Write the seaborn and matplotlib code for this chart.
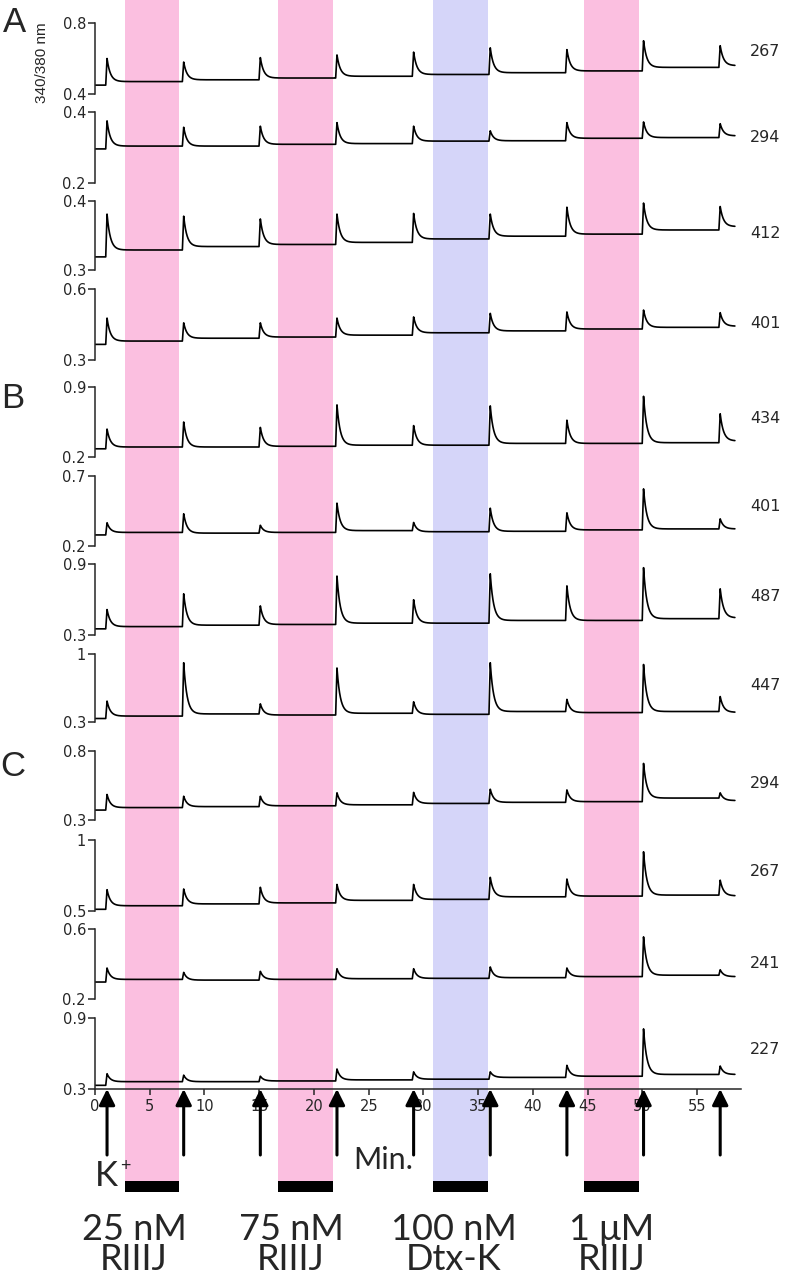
import numpy as np
import pandas as pd
import matplotlib
matplotlib.use('Agg')
import matplotlib.pyplot as plt
import seaborn as sns
from matplotlib.patches import Rectangle

# K+ pulses (min) and toxin applications
k_times = [1.1, 8.1, 15.1, 22.1, 29.1, 36.1, 43.1, 50.1, 57.1]
drug_start = [2.7, 16.7, 30.9, 44.7]
drug_end = [7.7, 21.7, 35.9, 49.7]
drug_dose = ['25 nM', '75 nM', '100 nM', '1 \u03bcM']
drug_name = ['RIIIJ', 'RIIIJ', 'Dtx-K', 'RIIIJ']
drug_color = ['#fbbfe0', '#fbbfe0', '#d5d5f9', '#fbbfe0']

# one trace per neuron (cell size label on the right)
cell_size = [267, 294, 412, 401, 434, 401, 487, 447, 294, 267, 241, 227]
y_low = [0.4, 0.2, 0.3, 0.3, 0.2, 0.2, 0.3, 0.3, 0.3, 0.5, 0.2, 0.3]
y_high = [0.8, 0.4, 0.4, 0.6, 0.9, 0.7, 0.9, 1.0, 0.8, 1.0, 0.6, 0.9]
start_level = [0.45, 0.296, 0.319, 0.366, 0.282, 0.279, 0.352, 0.336, 0.372, 0.512, 0.297, 0.331]
peak_level = [
    [0.600, 0.580, 0.605, 0.620, 0.636, 0.660, 0.650, 0.700, 0.672],
    [0.375, 0.357, 0.360, 0.370, 0.360, 0.347, 0.370, 0.372, 0.367],
    [0.381, 0.378, 0.374, 0.381, 0.382, 0.381, 0.391, 0.397, 0.392],
    [0.477, 0.457, 0.457, 0.477, 0.482, 0.497, 0.503, 0.511, 0.500],
    [0.479, 0.550, 0.496, 0.721, 0.514, 0.711, 0.568, 0.807, 0.632],
    [0.366, 0.430, 0.348, 0.506, 0.368, 0.470, 0.437, 0.608, 0.394],
    [0.515, 0.648, 0.546, 0.798, 0.598, 0.817, 0.715, 0.869, 0.690],
    [0.515, 0.910, 0.487, 0.856, 0.508, 0.910, 0.533, 0.892, 0.562],
    [0.485, 0.472, 0.472, 0.497, 0.500, 0.523, 0.518, 0.710, 0.497],
    [0.650, 0.655, 0.667, 0.687, 0.687, 0.737, 0.725, 0.917, 0.717],
    [0.377, 0.352, 0.358, 0.373, 0.373, 0.383, 0.377, 0.555, 0.367],
    [0.429, 0.417, 0.408, 0.469, 0.445, 0.445, 0.500, 0.808, 0.494],
]
rest_level = [
    [0.470, 0.480, 0.490, 0.500, 0.510, 0.520, 0.530, 0.550, 0.560],
    [0.304, 0.304, 0.309, 0.311, 0.318, 0.319, 0.326, 0.328, 0.333],
    [0.329, 0.334, 0.337, 0.340, 0.345, 0.349, 0.352, 0.358, 0.363],
    [0.380, 0.392, 0.397, 0.405, 0.415, 0.423, 0.431, 0.438, 0.443],
    [0.300, 0.300, 0.307, 0.318, 0.318, 0.336, 0.336, 0.343, 0.361],
    [0.297, 0.292, 0.297, 0.310, 0.302, 0.305, 0.315, 0.322, 0.322],
    [0.371, 0.383, 0.389, 0.400, 0.400, 0.423, 0.423, 0.438, 0.445],
    [0.361, 0.383, 0.372, 0.390, 0.379, 0.408, 0.397, 0.408, 0.400],
    [0.390, 0.397, 0.403, 0.410, 0.420, 0.428, 0.433, 0.459, 0.441],
    [0.537, 0.550, 0.557, 0.575, 0.582, 0.600, 0.605, 0.612, 0.607],
    [0.312, 0.308, 0.312, 0.316, 0.318, 0.322, 0.328, 0.336, 0.328],
    [0.362, 0.362, 0.368, 0.377, 0.383, 0.398, 0.408, 0.423, 0.423],
]
x_ticks = list(range(0, 56, 5))

# layout (pixels)
W, H = 796, 1277
X0, X1, XMAX = 95, 741, 59
row_top = [23, 112, 201, 289, 387, 476, 564, 654, 751, 840, 929, 1018]
row_bottom = [94, 183, 270, 360, 457, 546, 635, 722, 820, 911, 999, 1089]
label_y = [52, 137, 233, 323, 418, 507, 596, 685, 783, 871, 963, 1050]
drug_label_x = [134, 291, 454, 612]


def build_trace(start, peaks, rests, t_end=58.45, rise=0.12, tau=0.3):
    t = np.arange(0, t_end, 0.01)
    y = np.full(t.size, start, dtype=float)
    prev = start
    for i, tk in enumerate(k_times):
        t0 = tk - rise
        t1 = k_times[i + 1] - rise if i + 1 < len(k_times) else t_end + 1
        up = (t >= t0) & (t < tk)
        y[up] = prev + (peaks[i] - prev) * (t[up] - t0) / rise
        down = (t >= tk) & (t < t1)
        y[down] = rests[i] + (peaks[i] - rests[i]) * np.exp(-(t[down] - tk) / tau)
        prev = y[down][-1]
    return pd.DataFrame({'t': t, 'ratio': y})


sns.set_style('white')
plt.rcParams['font.family'] = ['DejaVu Sans']

fig = plt.figure(figsize=(W / 100, H / 100), dpi=100)

# background bands, in pixel y units
bg = fig.add_axes([X0 / W, 0, (X1 - X0) / W, 1])
bg.set_xlim(0, XMAX)
bg.set_ylim(H, 0)
bg.axis('off')
bg.set_zorder(0)
for s, e, c in zip(drug_start, drug_end, drug_color):
    bg.axvspan(s, e, ymin=1 - 1192 / H, ymax=1, color=c, lw=0)

for i in range(len(cell_size)):
    ax = fig.add_axes([X0 / W, 1 - row_bottom[i] / H, (X1 - X0) / W,
                       (row_bottom[i] - row_top[i]) / H])
    ax.set_zorder(1)
    ax.patch.set_visible(False)
    df = build_trace(start_level[i], peak_level[i], rest_level[i])
    sns.lineplot(data=df, x='t', y='ratio', ax=ax, color='black',
                 linewidth=1.2, estimator=None)
    ax.set_xlim(0, XMAX)
    ax.set_ylim(y_low[i], y_high[i])
    ax.set_yticks([y_low[i], y_high[i]])
    ax.set_yticklabels([f'{y_low[i]:g}', f'{y_high[i]:g}'])
    ax.set_xlabel('')
    ax.set_ylabel('')
    last = i == len(cell_size) - 1
    sns.despine(ax=ax, top=True, right=True, bottom=not last)
    for sp in ax.spines.values():
        sp.set_linewidth(1.1)
    ax.tick_params(axis='y', left=True, length=5, width=1.1, labelsize=10.5, pad=1.5)
    if last:
        ax.set_xticks(x_ticks)
        ax.tick_params(axis='x', bottom=True, length=4, width=1.1, labelsize=10.5, pad=3)
    else:
        ax.set_xticks([])
    fig.text(750 / W, 1 - label_y[i] / H, str(cell_size[i]), fontsize=11.5,
             ha='left', va='center')

# arrows, bars and labels on top
fg = fig.add_axes([X0 / W, 0, (X1 - X0) / W, 1])
fg.set_xlim(0, XMAX)
fg.set_ylim(H, 0)
fg.axis('off')
fg.set_zorder(5)
for t in k_times:
    fg.annotate('', xy=(t, 1089), xytext=(t, 1155),
                arrowprops=dict(arrowstyle='-|>', color='black', lw=2.2,
                                mutation_scale=24, shrinkA=0, shrinkB=0))
for s, e in zip(drug_start, drug_end):
    fg.add_patch(Rectangle((s, 1181), e - s, 11, color='black', lw=0))

lato = ['Lato', 'DejaVu Sans']
for x, dose, name in zip(drug_label_x, drug_dose, drug_name):
    fig.text(x / W, 1 - 1276 / H, dose + '\n' + name, fontsize=26, family=lato,
             ha='center', va='bottom', multialignment='center', linespacing=0.9)
fig.text(383 / W, 1 - 1160 / H, 'Min.', fontsize=22, family=lato, ha='center', va='center')
fig.text(95 / W, 1 - 1176 / H, 'K', fontsize=25, family=lato, ha='left', va='center')
fig.text(120 / W, 1 - 1166 / H, '+', fontsize=13, family=lato, ha='left', va='center')

abc = ['Liberation Sans', 'DejaVu Sans']
fig.text(15 / W, 1 - 23 / H, 'A', fontsize=25, family=abc, ha='center', va='center')
fig.text(13 / W, 1 - 398 / H, 'B', fontsize=25, family=abc, ha='center', va='center')
fig.text(13 / W, 1 - 766 / H, 'C', fontsize=25, family=abc, ha='center', va='center')
fig.text(42 / W, 1 - 63 / H, '340/380 nm', fontsize=11, rotation=90,
         family=['Liberation Sans Narrow', 'Liberation Sans', 'DejaVu Sans'],
         ha='center', va='center')

fig.savefig('out.png', dpi=100)
